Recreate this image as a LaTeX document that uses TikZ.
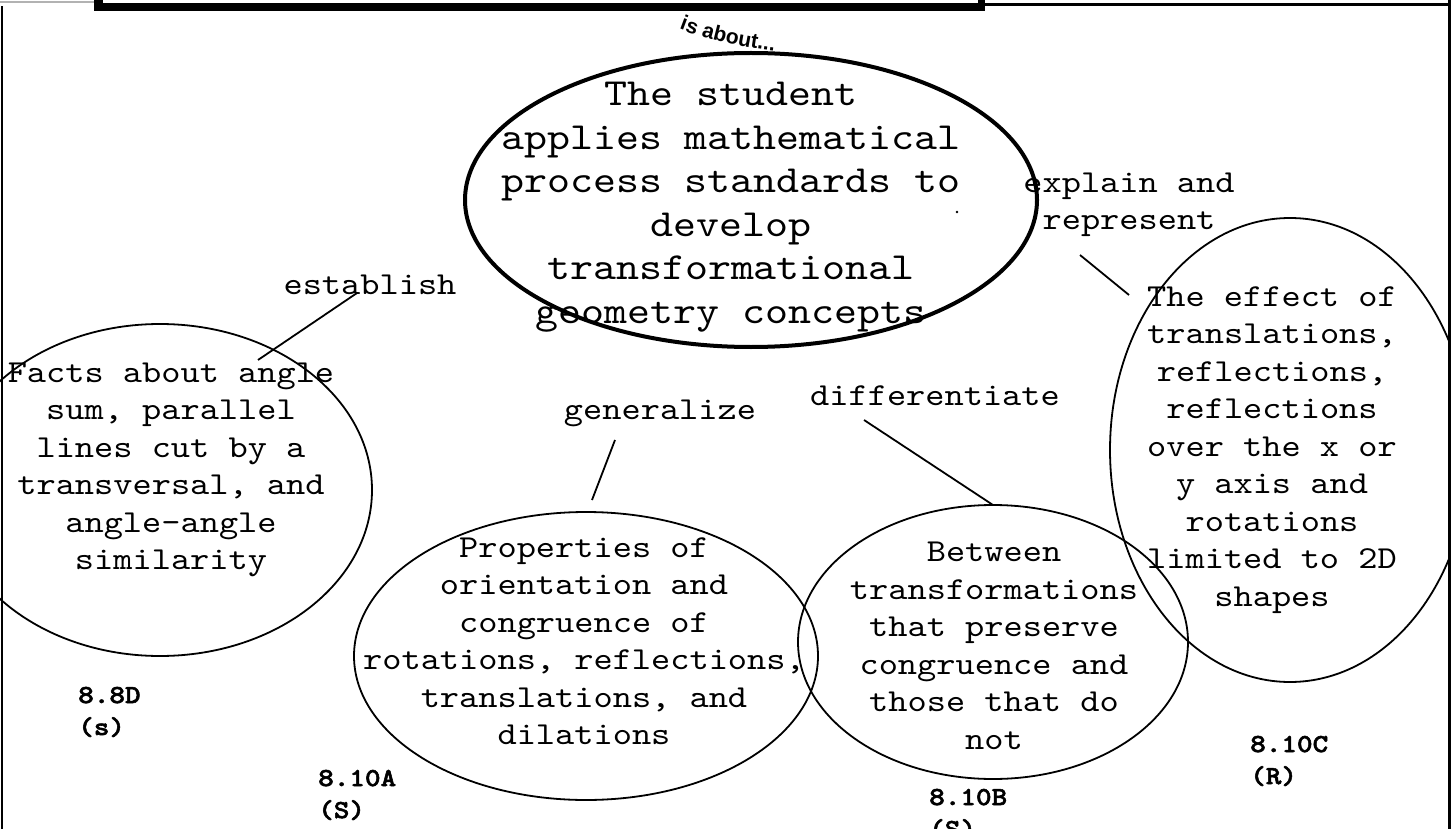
\documentclass[tikz,border=0pt]{standalone}
\usepackage{fontspec}
\setmainfont{Liberation Serif}
\newfontfamily\mono[Extension=.otf, FakeStretch=1.143]{lmmono10-regular}
\newfontfamily\monob[Extension=.otf, FakeStretch=1.143, FakeBold=2]{lmmonolt10-bold}
\newfontfamily\arialb{Liberation Sans Bold}
\usetikzlibrary{shapes.geometric,decorations.text}
\begin{document}
\begin{tikzpicture}[x=1pt,y=-1pt,
  thinell/.style={draw, line width=1.8pt, ellipse, inner sep=0pt, outer sep=0pt},
  bigell/.style={draw, line width=4pt, ellipse, inner sep=0pt, outer sep=0pt},
  body/.style={font=\mono\fontsize{32}{37.5}\selectfont, align=center, inner sep=0pt},
  big/.style={font=\mono\fontsize{38.3}{43.5}\selectfont, align=center, inner sep=0pt},
  code/.style={font=\monob\fontsize{26}{32}\selectfont, align=left, inner sep=0pt, anchor=west},
  link/.style={line width=1.8pt}]
\useasboundingbox (0,0) rectangle (1451,829);
\fill[white] (0,0) rectangle (1451,829);
\begin{scope}
\clip (0,0) rectangle (1451,829);
% ellipses
\node[bigell, minimum width=572pt, minimum height=294pt] (center) at (751,200) {};
\node[thinell, minimum width=424pt, minimum height=332pt] (facts) at (160,490) {};
\node[thinell, minimum width=464pt, minimum height=288pt] (props) at (586,656) {};
\node[thinell, minimum width=390pt, minimum height=274pt] (betw) at (993,642) {};
\node[thinell, minimum width=360pt, minimum height=464pt] (effect) at (1290,450) {};
\end{scope}
% texts in ellipses
\node[big] (ctext) at (731,207) {The student\\applies mathematical\\process standards to\\develop\\transformational\\geometry concepts};
\node[body] (ftext) at (171,470) {Facts about angle\\sum, parallel\\lines cut by a\\transversal, and\\angle-angle\\similarity};
\node[body] (ptext) at (584,641) {Properties of\\orientation and\\congruence of\\rotations, reflections,\\translations, and\\dilations};
\node[body] (btext) at (994,646) {Between\\transformations\\that preserve\\congruence and\\those that do\\not};
\node[body] (etext) at (1272,450) {The effect of\\translations,\\reflections,\\reflections\\over the x or\\y axis and\\rotations\\limited to 2D\\shapes};
% link labels
\coordinate (ia1) at (672,26);
\coordinate (ia2) at (782,52);
\path[decorate, decoration={text along path, text align=center,
  text={|\arialb\fontsize{21}{24}\selectfont|is about...}}]
  (ia1) .. controls (700,38) and (740,48) .. (ia2);
\node[body] (lest) at (370,285) {establish};
\node[body] (lgen) at (660,413) {generalize};
\node[body] (ldiff) at (935,396) {differentiate};
\node[body] (lexp) at (1129,205) {explain and\\represent};
% connectors
\coordinate (a1) at (357,293); \coordinate (a2) at (258,360);
\coordinate (b1) at (615,440); \coordinate (b2) at (592,500);
\coordinate (c1) at (864,420); \coordinate (c2) at (993,505);
\coordinate (d1) at (1080,255); \coordinate (d2) at (1129,295);
\draw[link] (a1) -- (a2);
\draw[link] (b1) -- (b2);
\draw[link] (c1) -- (c2);
\draw[link] (d1) -- (d2);
\fill (957,212) circle (1.3pt);
% codes
\node[code] (k1) at (78,712) {8.8D\\(s)};
\node[code] (k2) at (318,795) {8.10A\\(S)};
\node[code] (k3) at (929,814) {8.10B\\(S)};
\node[code] (k4) at (1250,761) {8.10C\\(R)};
% frame
\fill[gray!60] (0,1) rectangle (94,2.7);
\fill (0.8,6) rectangle (2.5,829);
\fill (94,0) rectangle (985,10.7);
\fill[white] (103,0) rectangle (978,2.7);
\fill (985,2.7) rectangle (1451,6);
\fill (1447.7,0) rectangle (1451,829);
\end{tikzpicture}
\end{document}
